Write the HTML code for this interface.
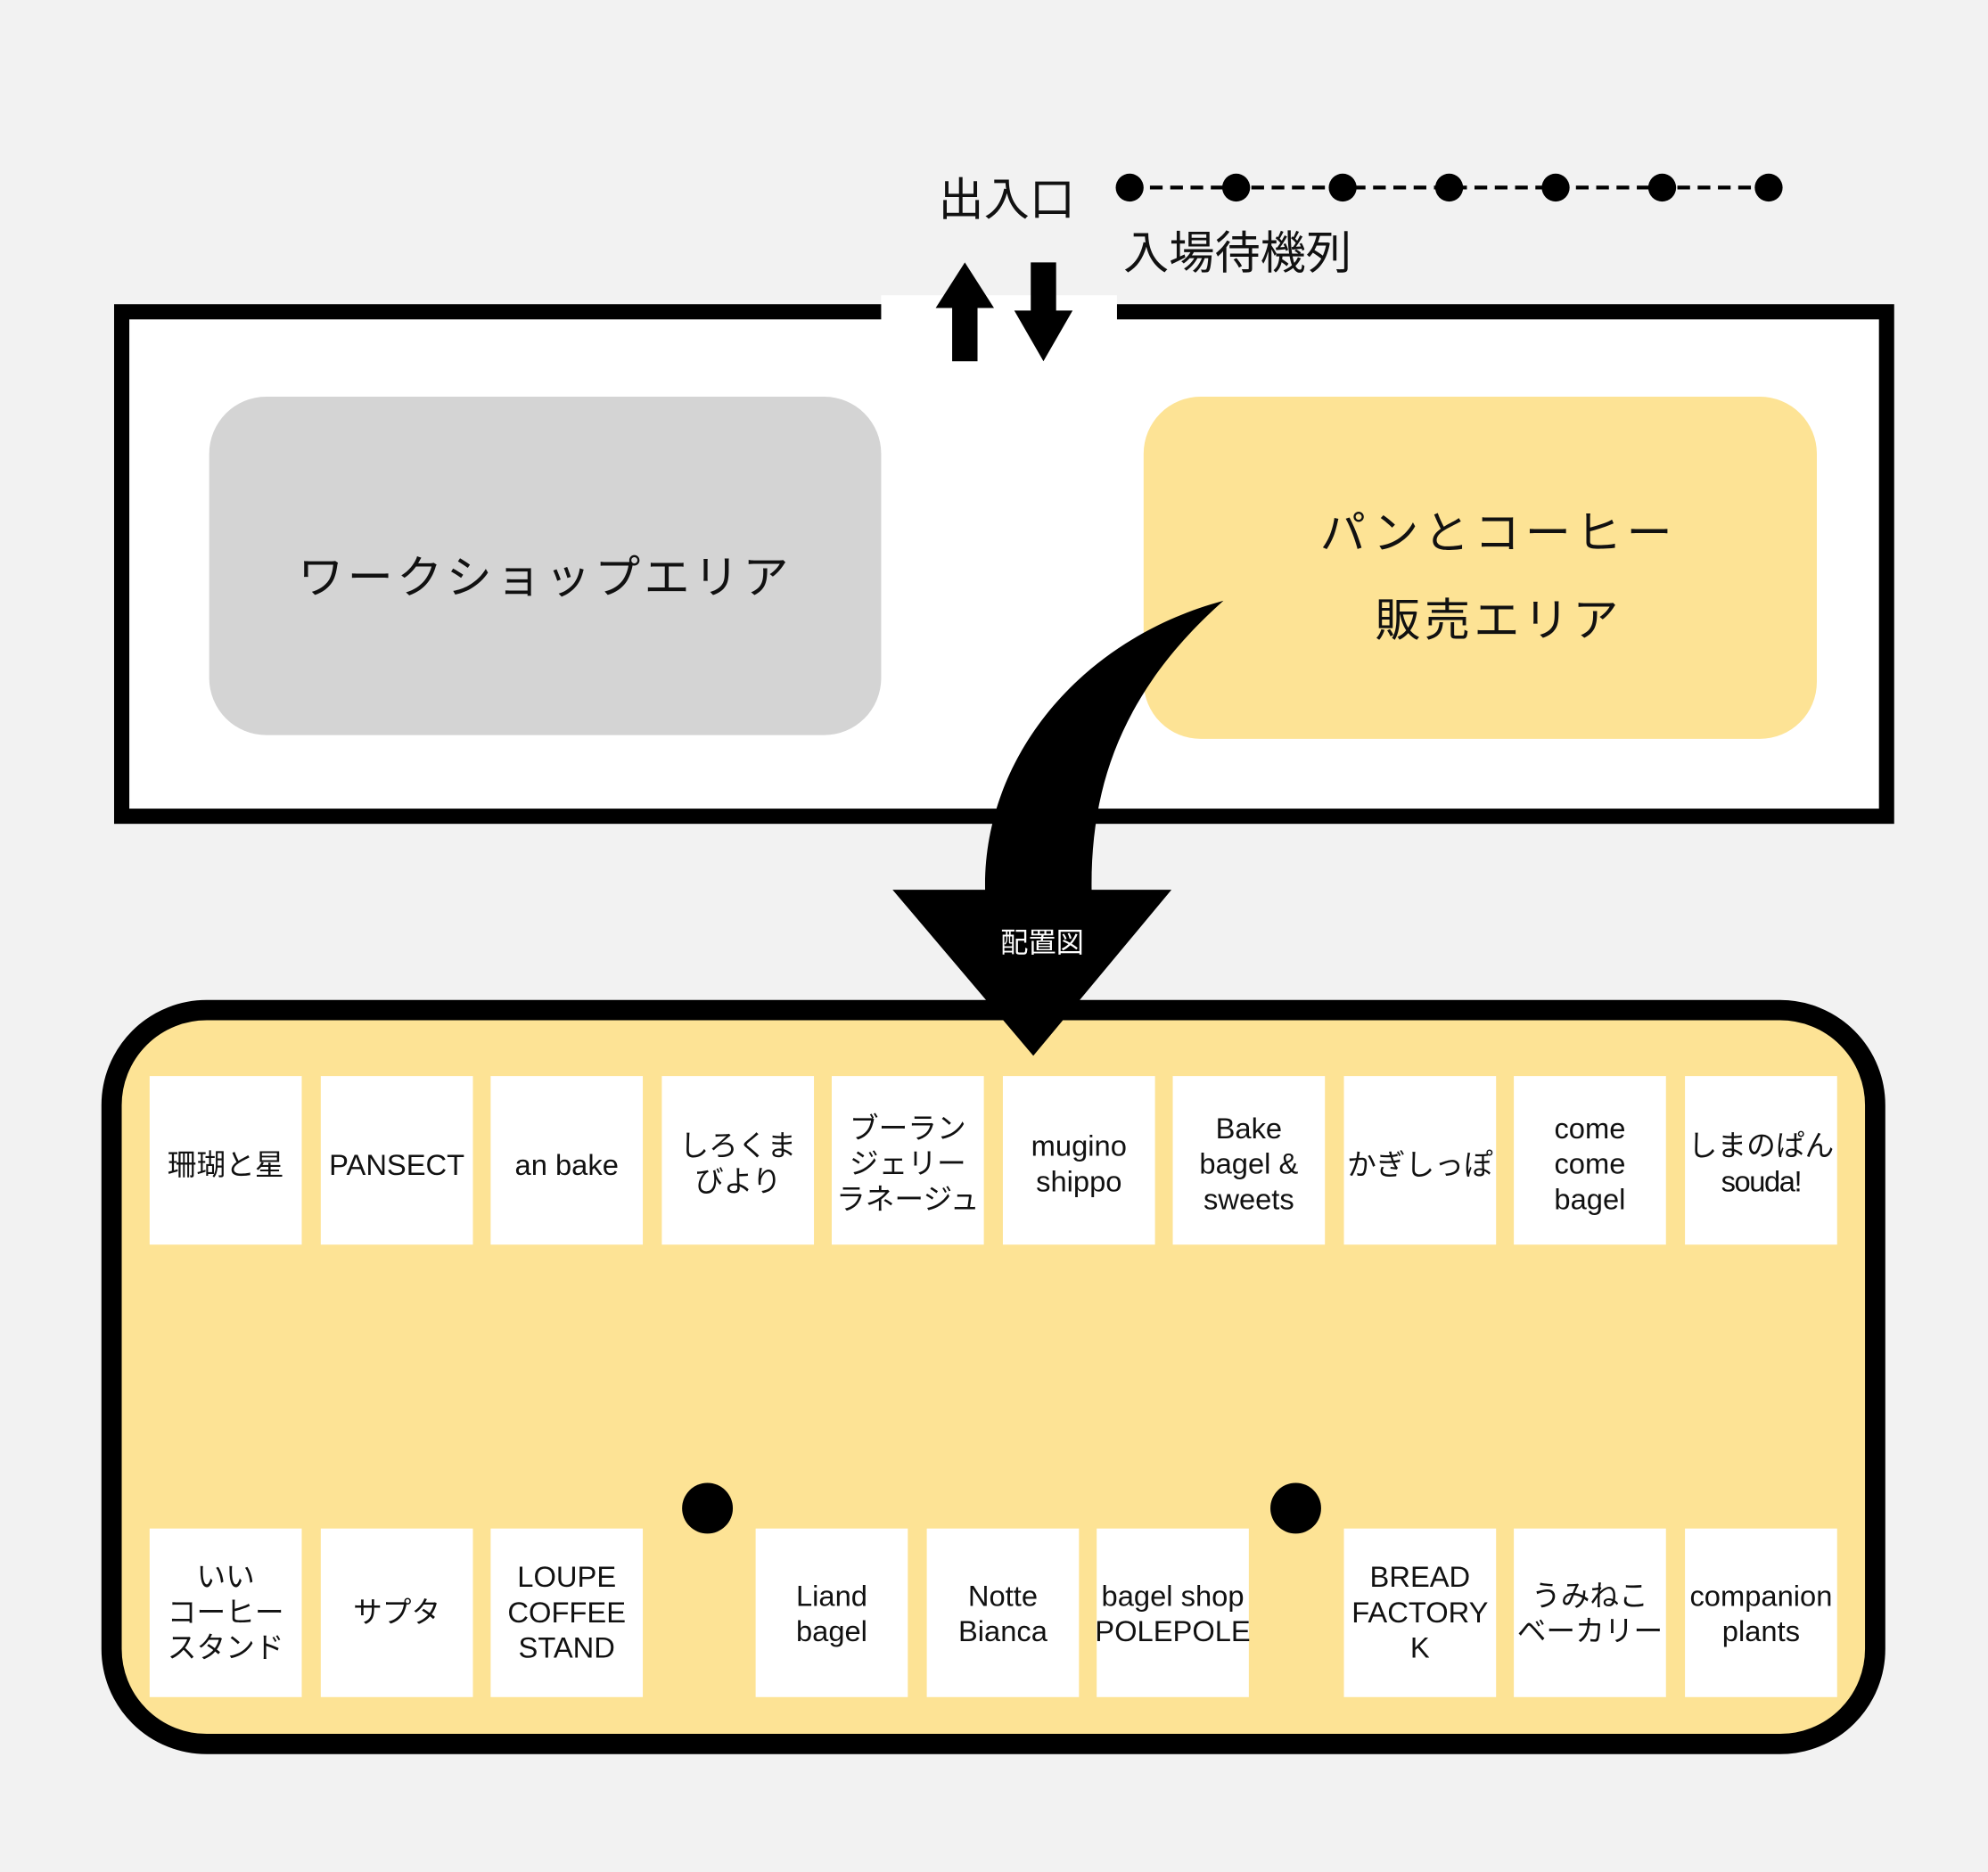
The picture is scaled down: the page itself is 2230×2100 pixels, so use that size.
<!DOCTYPE html>
<html><head><meta charset="utf-8"><style>
html,body{margin:0;padding:0;background:#f2f2f2;}
svg{display:block;}
text{font-family:"Liberation Sans","Noto Sans CJK JP",sans-serif;fill:#111;}
</style></head><body>
<svg width="2230" height="2100" viewBox="0 0 1568 1477" preserveAspectRatio="none" xmlns="http://www.w3.org/2000/svg">
<rect x="0" y="0" width="1568" height="1477" fill="#f2f2f2"/>
<!-- building -->
<rect x="96" y="246" width="1392" height="398" fill="#fff" stroke="#000" stroke-width="12"/>
<rect x="695" y="233" width="186" height="20" fill="#fff"/>
<!-- entrance arrows -->
<polygon points="738,243 761,207 784,243 771,243 771,285 751,285 751,243" fill="#000"/>
<polygon points="813,207 833,207 833,245 846,245 823,285 800,245 813,245" fill="#000"/>
<text x="740" y="170" font-size="36">出入口</text>
<!-- queue -->
<line x1="891" y1="148" x2="1395" y2="148" stroke="#000" stroke-width="3" stroke-dasharray="10 6"/>
<g fill="#000">
<circle cx="891" cy="148" r="11"/><circle cx="975" cy="148" r="11"/><circle cx="1059" cy="148" r="11"/><circle cx="1143" cy="148" r="11"/><circle cx="1227" cy="148" r="11"/><circle cx="1311" cy="148" r="11"/><circle cx="1395" cy="148" r="11"/>
</g>
<text x="886" y="212" font-size="36">入場待機列</text>
<!-- areas -->
<rect x="165" y="313" width="530" height="267" rx="45" fill="#d4d4d4"/>
<text x="430" y="468" font-size="36" text-anchor="middle" letter-spacing="3">ワークショップエリア</text>
<rect x="902" y="313" width="531" height="270" rx="45" fill="#fde395"/>
<text x="1182" y="433" font-size="36" text-anchor="middle" letter-spacing="4">パンとコーヒー</text>
<text x="1182" y="502" font-size="36" text-anchor="middle" letter-spacing="3">販売エリア</text>
<!-- bottom area -->
<rect x="88" y="797" width="1391" height="579" rx="75" fill="#fde395" stroke="#000" stroke-width="16"/>
<!-- curved arrow -->
<path d="M965,474 C850,505 775,600 777,702 L704,702 L815,833 L924,702 L861,702 C860,620 885,545 965,474 Z" fill="#000"/>
<text x="822" y="751" font-size="22" text-anchor="middle" style="fill:#fff">配置図</text>
<!-- top row -->
<g fill="#fff">
<rect x="118" y="849" width="120" height="133"/><rect x="253" y="849" width="120" height="133"/><rect x="387" y="849" width="120" height="133"/><rect x="522" y="849" width="120" height="133"/><rect x="656" y="849" width="120" height="133"/><rect x="791" y="849" width="120" height="133"/><rect x="925" y="849" width="120" height="133"/><rect x="1060" y="849" width="120" height="133"/><rect x="1194" y="849" width="120" height="133"/><rect x="1329" y="849" width="120" height="133"/>
<rect x="118" y="1206" width="120" height="133"/><rect x="253" y="1206" width="120" height="133"/><rect x="387" y="1206" width="120" height="133"/><rect x="596" y="1206" width="120" height="133"/><rect x="731" y="1206" width="120" height="133"/><rect x="865" y="1206" width="120" height="133"/><rect x="1060" y="1206" width="120" height="133"/><rect x="1194" y="1206" width="120" height="133"/><rect x="1329" y="1206" width="120" height="133"/>
</g>
<circle cx="558" cy="1190" r="20" fill="#000"/>
<circle cx="1022" cy="1190" r="20" fill="#000"/>
<g font-size="23" text-anchor="middle">
<text x="178" y="927">珊瑚と星</text>
<text x="313" y="927">PANSECT</text>
<text x="447" y="927">an bake</text>
<text x="582" y="912">しろくま</text><text x="582" y="940">びより</text>
<text x="716" y="898">ブーラン</text><text x="716" y="926">ジェリー</text><text x="716" y="954">ラネージュ</text>
<text x="851" y="912">mugino</text><text x="851" y="940">shippo</text>
<text x="985" y="898">Bake</text><text x="985" y="926">bagel &amp;</text><text x="985" y="954">sweets</text>
<text x="1120" y="927">かぎしっぽ</text>
<text x="1254" y="898">come</text><text x="1254" y="926">come</text><text x="1254" y="954">bagel</text>
<text x="1389" y="912">しまのぱん</text><text x="1389" y="940" letter-spacing="-1">souda!</text>
<text x="178" y="1252">いい</text><text x="178" y="1280">コーヒー</text><text x="178" y="1308">スタンド</text>
<text x="313" y="1280">サプタ</text>
<text x="447" y="1252">LOUPE</text><text x="447" y="1280">COFFEE</text><text x="447" y="1308">STAND</text>
<text x="656" y="1267">Liand</text><text x="656" y="1295">bagel</text>
<text x="791" y="1267">Notte</text><text x="791" y="1295">Bianca</text>
<text x="925" y="1267">bagel shop</text><text x="925" y="1295">POLEPOLE</text>
<text x="1120" y="1252">BREAD</text><text x="1120" y="1280">FACTORY</text><text x="1120" y="1308">K</text>
<text x="1254" y="1267">うみねこ</text><text x="1254" y="1295">ベーカリー</text>
<text x="1389" y="1267">companion</text><text x="1389" y="1295">plants</text>
</g>
</svg>
</body></html>
